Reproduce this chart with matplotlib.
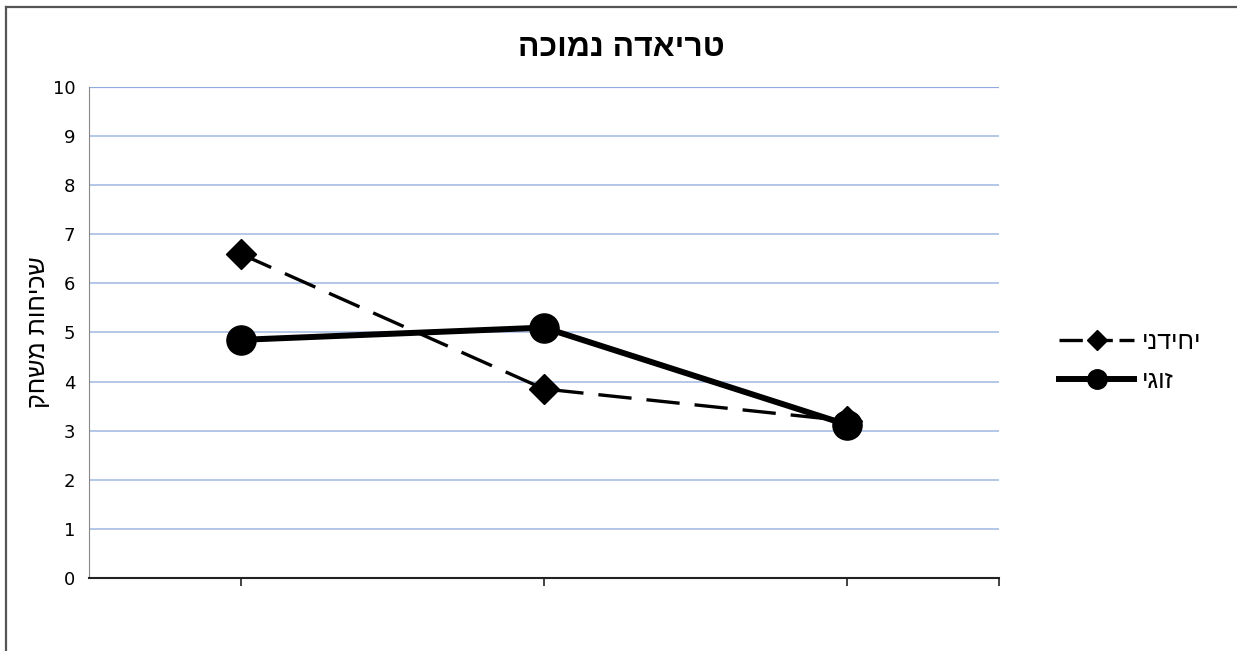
import matplotlib.pyplot as plt
from matplotlib.lines import Line2D

# data
categories = [0, 1, 2]
single = [6.6, 3.85, 3.2]      # יחידני
pair = [4.85, 5.1, 3.12]       # זוגי
title = "טריאדה נמוכה"
ylabel = "שכיחות משחק"
names = ["יחידני", "זוגי"]

plt.rcParams['font.family'] = ['Liberation Sans', 'DejaVu Sans']


def heb(s):
    # matplotlib has no bidi support, so flip the text by hand
    return s[::-1]


fig = plt.figure(figsize=(12.37, 6.51), dpi=100)
ax = fig.add_axes([0.072, 0.1121, 0.7356, 0.7543])

dash = (0, (10, 4.5))
ax.plot(categories, single, color='black', lw=2.4, ls=dash,
        marker='D', ms=15, label=heb(names[0]), zorder=3)
ax.plot(categories, pair, color='black', lw=4.3, marker='o', ms=21,
        label=heb(names[1]), zorder=4)

ax.set_xlim(-0.5, 2.5)
ax.set_ylim(0, 10)
ax.set_yticks(range(0, 11))
ax.set_xticks([0, 1, 2, 2.5])
ax.set_xticklabels([])
ax.tick_params(axis='y', length=0, labelsize=13, pad=10)
for lab in ax.get_yticklabels():
    lab.set_family('DejaVu Sans')
ax.tick_params(axis='x', length=6, width=1.2, color='#222222')
ax.yaxis.grid(True, color='#b4c7e7', lw=1.4)
ax.axhline(10, color='#8faadc', lw=1.6, zorder=1)
ax.set_axisbelow(True)
for s in ['top', 'right']:
    ax.spines[s].set_visible(False)
ax.spines['left'].set_color('#888888')
ax.spines['bottom'].set_color('#222222')
ax.spines['bottom'].set_linewidth(1.5)

ax.set_ylabel(heb(ylabel), fontsize=18, labelpad=2)
fig.text(0.502, 0.926, heb(title), ha='center', va='center',
         fontsize=23, fontweight='bold')

handles = [Line2D([], [], color='black', lw=2.4, ls=(0, (7, 2)), marker='D', ms=10),
           Line2D([], [], color='black', lw=4.3, marker='o', ms=14)]
fig.legend(handles, [heb(n) for n in names], loc='center left',
           bbox_to_anchor=(0.838, 0.445), frameon=False, fontsize=18,
           handlelength=3.0, handletextpad=0.3, labelspacing=0.6)

# outer frame: only top and left edges show in the reference
fig.add_artist(Line2D([0.005, 1.0], [0.989, 0.989], transform=fig.transFigure,
                      color='#555555', lw=1.6))
fig.add_artist(Line2D([0.005, 0.005], [0.0, 0.989], transform=fig.transFigure,
                      color='#555555', lw=1.6))

fig.savefig('out.png', dpi=100)
